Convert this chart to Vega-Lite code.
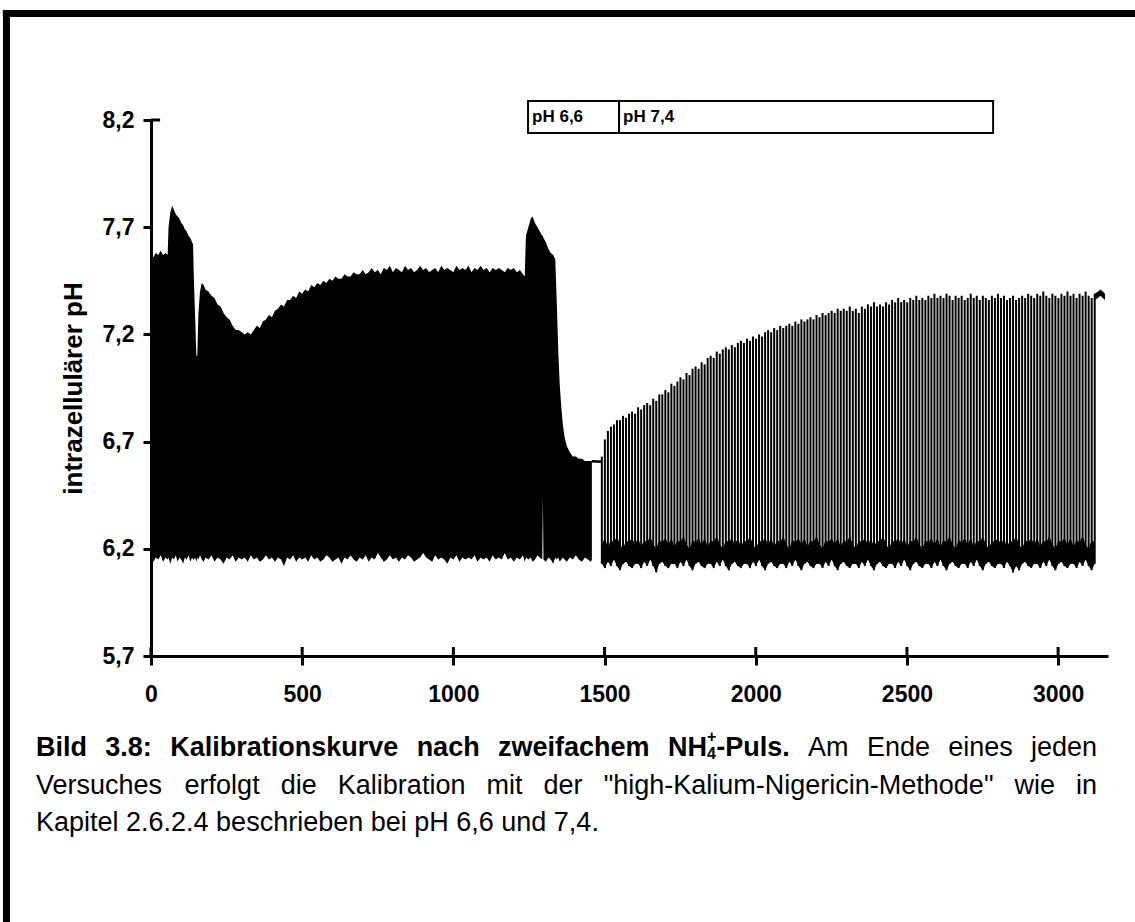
{
"$schema": "https://vega.github.io/schema/vega-lite/v6.json",
"width": 957, "height": 536,
"autosize": {"type": "none"},
"padding": {"left": 151, "top": 120, "right": 27, "bottom": 266},
"background": "white",
"config": {"view": {"stroke": null}, "font": "Liberation Sans",
 "axis": {"grid": false, "domainColor": "black", "domainWidth": 3, "tickColor": "black", "tickWidth": 3, "tickCap": "butt", "labelColor": "black", "labelFont": "Liberation Sans", "labelFontWeight": "bold", "labelFontSize": 23, "titleColor": "black", "titleFont": "Liberation Sans", "titleFontWeight": "bold", "titleFontSize": 26, "labelFlush": false, "labelOverlap": false, "labelBound": false}},
"datasets": {
"dense": [
{"s":"A","t":0,"lo":6.17,"hi":7.58},{"s":"A","t":8,"lo":6.14,"hi":7.56},{"s":"A","t":16,"lo":6.16,"hi":7.58},{"s":"A","t":24,"lo":6.15,"hi":7.57},{"s":"A","t":32,"lo":6.17,"hi":7.59},{"s":"A","t":40,"lo":6.14,"hi":7.57},{"s":"A","t":48,"lo":6.16,"hi":7.58},{"s":"A","t":55,"lo":6.15,"hi":7.57},{"s":"A","t":58,"lo":6.16,"hi":7.70},{"s":"A","t":64,"lo":6.13,"hi":7.77},{"s":"A","t":70,"lo":6.16,"hi":7.80},{"s":"A","t":76,"lo":6.15,"hi":7.78},{"s":"A","t":82,"lo":6.17,"hi":7.76},{"s":"A","t":88,"lo":6.14,"hi":7.75},{"s":"A","t":94,"lo":6.16,"hi":7.74},{"s":"A","t":100,"lo":6.15,"hi":7.72},{"s":"A","t":106,"lo":6.13,"hi":7.71},{"s":"A","t":112,"lo":6.16,"hi":7.69},{"s":"A","t":118,"lo":6.15,"hi":7.68},{"s":"A","t":124,"lo":6.17,"hi":7.66},{"s":"A","t":130,"lo":6.14,"hi":7.65},{"s":"A","t":136,"lo":6.16,"hi":7.63},{"s":"A","t":139,"lo":6.15,"hi":7.62},{"s":"A","t":142,"lo":6.15,"hi":7.45},{"s":"A","t":146,"lo":6.16,"hi":7.28},{"s":"A","t":150,"lo":6.14,"hi":7.10},{"s":"A","t":153,"lo":6.16,"hi":7.10},{"s":"A","t":157,"lo":6.15,"hi":7.30},{"s":"A","t":162,"lo":6.17,"hi":7.40},{"s":"A","t":168,"lo":6.15,"hi":7.44},{"s":"A","t":174,"lo":6.14,"hi":7.43},{"s":"A","t":180,"lo":6.16,"hi":7.41},{"s":"A","t":190,"lo":6.15,"hi":7.40},{"s":"A","t":200,"lo":6.17,"hi":7.38},{"s":"A","t":210,"lo":6.14,"hi":7.37},{"s":"A","t":220,"lo":6.16,"hi":7.34},{"s":"A","t":230,"lo":6.15,"hi":7.33},{"s":"A","t":240,"lo":6.13,"hi":7.30},{"s":"A","t":250,"lo":6.16,"hi":7.28},{"s":"A","t":260,"lo":6.15,"hi":7.27},{"s":"A","t":270,"lo":6.17,"hi":7.24},{"s":"A","t":280,"lo":6.14,"hi":7.22},{"s":"A","t":290,"lo":6.16,"hi":7.22},{"s":"A","t":300,"lo":6.15,"hi":7.21},{"s":"A","t":310,"lo":6.16,"hi":7.20},{"s":"A","t":320,"lo":6.14,"hi":7.21},{"s":"A","t":330,"lo":6.17,"hi":7.20},{"s":"A","t":340,"lo":6.15,"hi":7.22},{"s":"A","t":350,"lo":6.16,"hi":7.24},{"s":"A","t":360,"lo":6.14,"hi":7.23},{"s":"A","t":370,"lo":6.15,"hi":7.26},{"s":"A","t":380,"lo":6.17,"hi":7.27},{"s":"A","t":390,"lo":6.15,"hi":7.29},{"s":"A","t":400,"lo":6.16,"hi":7.28},{"s":"A","t":410,"lo":6.14,"hi":7.31},{"s":"A","t":420,"lo":6.16,"hi":7.32},{"s":"A","t":430,"lo":6.15,"hi":7.34},{"s":"A","t":440,"lo":6.12,"hi":7.33},{"s":"A","t":450,"lo":6.16,"hi":7.36},{"s":"A","t":460,"lo":6.15,"hi":7.36},{"s":"A","t":470,"lo":6.17,"hi":7.38},{"s":"A","t":480,"lo":6.14,"hi":7.37},{"s":"A","t":490,"lo":6.16,"hi":7.40},{"s":"A","t":500,"lo":6.15,"hi":7.39},{"s":"A","t":510,"lo":6.16,"hi":7.41},{"s":"A","t":520,"lo":6.14,"hi":7.40},{"s":"A","t":530,"lo":6.17,"hi":7.43},{"s":"A","t":540,"lo":6.15,"hi":7.42},{"s":"A","t":550,"lo":6.16,"hi":7.44},{"s":"A","t":560,"lo":6.14,"hi":7.43},{"s":"A","t":570,"lo":6.15,"hi":7.45},{"s":"A","t":580,"lo":6.17,"hi":7.44},{"s":"A","t":590,"lo":6.16,"hi":7.46},{"s":"A","t":600,"lo":6.14,"hi":7.45},{"s":"A","t":610,"lo":6.15,"hi":7.47},{"s":"A","t":620,"lo":6.16,"hi":7.46},{"s":"A","t":630,"lo":6.13,"hi":7.46},{"s":"A","t":640,"lo":6.16,"hi":7.48},{"s":"A","t":650,"lo":6.15,"hi":7.47},{"s":"A","t":660,"lo":6.17,"hi":7.47},{"s":"A","t":670,"lo":6.15,"hi":7.49},{"s":"A","t":680,"lo":6.14,"hi":7.48},{"s":"A","t":690,"lo":6.16,"hi":7.48},{"s":"A","t":700,"lo":6.15,"hi":7.50},{"s":"A","t":710,"lo":6.17,"hi":7.48},{"s":"A","t":720,"lo":6.14,"hi":7.49},{"s":"A","t":730,"lo":6.16,"hi":7.51},{"s":"A","t":740,"lo":6.15,"hi":7.49},{"s":"A","t":750,"lo":6.18,"hi":7.50},{"s":"A","t":760,"lo":6.16,"hi":7.48},{"s":"A","t":770,"lo":6.14,"hi":7.51},{"s":"A","t":780,"lo":6.15,"hi":7.50},{"s":"A","t":790,"lo":6.17,"hi":7.52},{"s":"A","t":800,"lo":6.15,"hi":7.49},{"s":"A","t":810,"lo":6.16,"hi":7.51},{"s":"A","t":820,"lo":6.14,"hi":7.50},{"s":"A","t":830,"lo":6.16,"hi":7.49},{"s":"A","t":840,"lo":6.15,"hi":7.52},{"s":"A","t":850,"lo":6.17,"hi":7.50},{"s":"A","t":860,"lo":6.16,"hi":7.51},{"s":"A","t":870,"lo":6.14,"hi":7.49},{"s":"A","t":880,"lo":6.15,"hi":7.50},{"s":"A","t":890,"lo":6.16,"hi":7.52},{"s":"A","t":900,"lo":6.18,"hi":7.50},{"s":"A","t":910,"lo":6.16,"hi":7.51},{"s":"A","t":920,"lo":6.15,"hi":7.49},{"s":"A","t":930,"lo":6.14,"hi":7.50},{"s":"A","t":940,"lo":6.17,"hi":7.51},{"s":"A","t":950,"lo":6.15,"hi":7.49},{"s":"A","t":960,"lo":6.16,"hi":7.52},{"s":"A","t":970,"lo":6.15,"hi":7.50},{"s":"A","t":980,"lo":6.13,"hi":7.51},{"s":"A","t":990,"lo":6.16,"hi":7.50},{"s":"A","t":1000,"lo":6.15,"hi":7.49},{"s":"A","t":1010,"lo":6.17,"hi":7.52},{"s":"A","t":1020,"lo":6.14,"hi":7.50},{"s":"A","t":1030,"lo":6.16,"hi":7.51},{"s":"A","t":1040,"lo":6.15,"hi":7.50},{"s":"A","t":1050,"lo":6.16,"hi":7.52},{"s":"A","t":1060,"lo":6.15,"hi":7.49},{"s":"A","t":1070,"lo":6.17,"hi":7.51},{"s":"A","t":1080,"lo":6.14,"hi":7.50},{"s":"A","t":1090,"lo":6.16,"hi":7.52},{"s":"A","t":1100,"lo":6.15,"hi":7.50},{"s":"A","t":1110,"lo":6.16,"hi":7.51},{"s":"A","t":1120,"lo":6.14,"hi":7.49},{"s":"A","t":1130,"lo":6.17,"hi":7.51},{"s":"A","t":1140,"lo":6.15,"hi":7.50},{"s":"A","t":1150,"lo":6.16,"hi":7.51},{"s":"A","t":1160,"lo":6.15,"hi":7.50},{"s":"A","t":1170,"lo":6.18,"hi":7.49},{"s":"A","t":1180,"lo":6.15,"hi":7.51},{"s":"A","t":1190,"lo":6.16,"hi":7.50},{"s":"A","t":1200,"lo":6.14,"hi":7.51},{"s":"A","t":1210,"lo":6.16,"hi":7.49},{"s":"A","t":1220,"lo":6.15,"hi":7.50},{"s":"A","t":1230,"lo":6.17,"hi":7.48},{"s":"A","t":1236,"lo":6.14,"hi":7.47},{"s":"A","t":1240,"lo":6.16,"hi":7.66},{"s":"A","t":1248,"lo":6.15,"hi":7.70},{"s":"A","t":1256,"lo":6.16,"hi":7.74},{"s":"A","t":1262,"lo":6.14,"hi":7.75},{"s":"A","t":1270,"lo":6.15,"hi":7.72},{"s":"A","t":1278,"lo":6.17,"hi":7.70},{"s":"A","t":1286,"lo":6.16,"hi":7.68},{"s":"A","t":1294,"lo":6.15,"hi":7.66},{"s":"A","t":1296,"lo":6.44,"hi":7.66},{"s":"A","t":1298,"lo":6.15,"hi":7.65},{"s":"A","t":1306,"lo":6.14,"hi":7.63},{"s":"A","t":1314,"lo":6.16,"hi":7.60},{"s":"A","t":1322,"lo":6.15,"hi":7.58},{"s":"A","t":1330,"lo":6.13,"hi":7.57},{"s":"A","t":1337,"lo":6.16,"hi":7.55},{"s":"A","t":1342,"lo":6.15,"hi":7.35},{"s":"A","t":1347,"lo":6.16,"hi":7.12},{"s":"A","t":1352,"lo":6.14,"hi":6.96},{"s":"A","t":1357,"lo":6.15,"hi":6.86},{"s":"A","t":1362,"lo":6.16,"hi":6.78},{"s":"A","t":1368,"lo":6.15,"hi":6.72},{"s":"A","t":1375,"lo":6.14,"hi":6.68},{"s":"A","t":1385,"lo":6.16,"hi":6.65},{"s":"A","t":1395,"lo":6.15,"hi":6.63},{"s":"A","t":1405,"lo":6.17,"hi":6.63},{"s":"A","t":1415,"lo":6.15,"hi":6.62},{"s":"A","t":1425,"lo":6.14,"hi":6.62},{"s":"A","t":1435,"lo":6.16,"hi":6.61},{"s":"A","t":1445,"lo":6.15,"hi":6.61},{"s":"A","t":1455,"lo":6.14,"hi":6.61},{"s":"A","t":1458,"lo":6.15,"hi":6.61},
{"s":"B","t":1458,"lo":6.602,"hi":6.614},{"s":"B","t":1490,"lo":6.600,"hi":6.612},
{"s":"D","t":3121,"lo":7.36,"hi":7.39},{"s":"D","t":3132,"lo":7.37,"hi":7.40},{"s":"D","t":3140,"lo":7.38,"hi":7.41},{"s":"D","t":3148,"lo":7.37,"hi":7.40},{"s":"D","t":3155,"lo":7.36,"hi":7.39}
],
"spikes": [
{"t":1491,"hi":6.63,"lo":6.13,"base":6.22},{"t":1501,"hi":6.71,"lo":6.11,"base":6.25},{"t":1511,"hi":6.75,"lo":6.14,"base":6.21},{"t":1521,"hi":6.77,"lo":6.12,"base":6.24},{"t":1531,"hi":6.78,"lo":6.15,"base":6.23},{"t":1541,"hi":6.80,"lo":6.12,"base":6.26},{"t":1551,"hi":6.80,"lo":6.10,"base":6.22},{"t":1561,"hi":6.82,"lo":6.13,"base":6.20},{"t":1571,"hi":6.81,"lo":6.14,"base":6.24},{"t":1581,"hi":6.83,"lo":6.12,"base":6.23},{"t":1591,"hi":6.84,"lo":6.11,"base":6.25},{"t":1601,"hi":6.83,"lo":6.13,"base":6.22},{"t":1611,"hi":6.86,"lo":6.13,"base":6.25},{"t":1621,"hi":6.85,"lo":6.11,"base":6.21},{"t":1631,"hi":6.87,"lo":6.14,"base":6.24},{"t":1641,"hi":6.88,"lo":6.12,"base":6.23},{"t":1651,"hi":6.87,"lo":6.15,"base":6.26},{"t":1661,"hi":6.90,"lo":6.12,"base":6.22},{"t":1671,"hi":6.89,"lo":6.09,"base":6.20},{"t":1681,"hi":6.92,"lo":6.13,"base":6.24},{"t":1691,"hi":6.92,"lo":6.14,"base":6.23},{"t":1701,"hi":6.94,"lo":6.12,"base":6.25},{"t":1711,"hi":6.93,"lo":6.11,"base":6.22},{"t":1721,"hi":6.97,"lo":6.13,"base":6.25},{"t":1731,"hi":6.96,"lo":6.13,"base":6.21},{"t":1741,"hi":6.98,"lo":6.11,"base":6.24},{"t":1751,"hi":7.00,"lo":6.14,"base":6.23},{"t":1761,"hi":6.99,"lo":6.12,"base":6.26},{"t":1771,"hi":7.02,"lo":6.15,"base":6.22},{"t":1781,"hi":7.01,"lo":6.12,"base":6.20},{"t":1791,"hi":7.04,"lo":6.10,"base":6.24},{"t":1801,"hi":7.05,"lo":6.13,"base":6.23},{"t":1811,"hi":7.04,"lo":6.14,"base":6.25},{"t":1821,"hi":7.07,"lo":6.12,"base":6.22},{"t":1831,"hi":7.06,"lo":6.11,"base":6.25},{"t":1841,"hi":7.09,"lo":6.13,"base":6.21},{"t":1851,"hi":7.10,"lo":6.13,"base":6.24},{"t":1861,"hi":7.09,"lo":6.11,"base":6.23},{"t":1871,"hi":7.12,"lo":6.14,"base":6.26},{"t":1881,"hi":7.11,"lo":6.12,"base":6.22},{"t":1891,"hi":7.13,"lo":6.15,"base":6.20},{"t":1901,"hi":7.14,"lo":6.12,"base":6.24},{"t":1911,"hi":7.13,"lo":6.10,"base":6.23},{"t":1921,"hi":7.15,"lo":6.13,"base":6.25},{"t":1931,"hi":7.14,"lo":6.14,"base":6.22},{"t":1941,"hi":7.16,"lo":6.12,"base":6.25},{"t":1951,"hi":7.17,"lo":6.11,"base":6.21},{"t":1961,"hi":7.16,"lo":6.13,"base":6.24},{"t":1971,"hi":7.18,"lo":6.13,"base":6.23},{"t":1981,"hi":7.17,"lo":6.11,"base":6.26},{"t":1991,"hi":7.19,"lo":6.14,"base":6.22},{"t":2001,"hi":7.18,"lo":6.12,"base":6.20},{"t":2011,"hi":7.20,"lo":6.15,"base":6.24},{"t":2021,"hi":7.19,"lo":6.12,"base":6.23},{"t":2031,"hi":7.21,"lo":6.10,"base":6.25},{"t":2041,"hi":7.22,"lo":6.13,"base":6.22},{"t":2051,"hi":7.21,"lo":6.14,"base":6.25},{"t":2061,"hi":7.23,"lo":6.12,"base":6.21},{"t":2071,"hi":7.22,"lo":6.11,"base":6.24},{"t":2081,"hi":7.24,"lo":6.13,"base":6.23},{"t":2091,"hi":7.23,"lo":6.13,"base":6.26},{"t":2101,"hi":7.24,"lo":6.11,"base":6.22},{"t":2111,"hi":7.25,"lo":6.14,"base":6.20},{"t":2121,"hi":7.24,"lo":6.12,"base":6.24},{"t":2131,"hi":7.26,"lo":6.15,"base":6.23},{"t":2141,"hi":7.25,"lo":6.12,"base":6.25},{"t":2151,"hi":7.27,"lo":6.10,"base":6.22},{"t":2161,"hi":7.26,"lo":6.13,"base":6.25},{"t":2171,"hi":7.27,"lo":6.14,"base":6.21},{"t":2181,"hi":7.28,"lo":6.12,"base":6.24},{"t":2191,"hi":7.27,"lo":6.11,"base":6.23},{"t":2201,"hi":7.29,"lo":6.13,"base":6.26},{"t":2211,"hi":7.28,"lo":6.13,"base":6.22},{"t":2221,"hi":7.30,"lo":6.11,"base":6.20},{"t":2231,"hi":7.29,"lo":6.14,"base":6.24},{"t":2241,"hi":7.30,"lo":6.12,"base":6.23},{"t":2251,"hi":7.31,"lo":6.15,"base":6.25},{"t":2261,"hi":7.30,"lo":6.12,"base":6.22},{"t":2271,"hi":7.32,"lo":6.10,"base":6.25},{"t":2281,"hi":7.31,"lo":6.13,"base":6.21},{"t":2291,"hi":7.32,"lo":6.14,"base":6.24},{"t":2301,"hi":7.31,"lo":6.12,"base":6.23},{"t":2311,"hi":7.33,"lo":6.11,"base":6.26},{"t":2321,"hi":7.31,"lo":6.13,"base":6.22},{"t":2331,"hi":7.32,"lo":6.13,"base":6.20},{"t":2341,"hi":7.30,"lo":6.11,"base":6.24},{"t":2351,"hi":7.33,"lo":6.14,"base":6.23},{"t":2361,"hi":7.32,"lo":6.12,"base":6.25},{"t":2371,"hi":7.34,"lo":6.15,"base":6.22},{"t":2381,"hi":7.33,"lo":6.12,"base":6.25},{"t":2391,"hi":7.35,"lo":6.10,"base":6.21},{"t":2401,"hi":7.33,"lo":6.13,"base":6.24},{"t":2411,"hi":7.34,"lo":6.14,"base":6.23},{"t":2421,"hi":7.33,"lo":6.12,"base":6.26},{"t":2431,"hi":7.35,"lo":6.11,"base":6.22},{"t":2441,"hi":7.34,"lo":6.13,"base":6.20},{"t":2451,"hi":7.36,"lo":6.13,"base":6.24},{"t":2461,"hi":7.35,"lo":6.11,"base":6.23},{"t":2471,"hi":7.37,"lo":6.14,"base":6.25},{"t":2481,"hi":7.35,"lo":6.12,"base":6.22},{"t":2491,"hi":7.36,"lo":6.15,"base":6.25},{"t":2501,"hi":7.35,"lo":6.12,"base":6.21},{"t":2511,"hi":7.37,"lo":6.10,"base":6.24},{"t":2521,"hi":7.36,"lo":6.13,"base":6.23},{"t":2531,"hi":7.38,"lo":6.14,"base":6.26},{"t":2541,"hi":7.36,"lo":6.12,"base":6.22},{"t":2551,"hi":7.37,"lo":6.11,"base":6.20},{"t":2561,"hi":7.36,"lo":6.13,"base":6.24},{"t":2571,"hi":7.38,"lo":6.13,"base":6.23},{"t":2581,"hi":7.37,"lo":6.11,"base":6.25},{"t":2591,"hi":7.39,"lo":6.14,"base":6.22},{"t":2601,"hi":7.37,"lo":6.12,"base":6.25},{"t":2611,"hi":7.38,"lo":6.15,"base":6.21},{"t":2621,"hi":7.37,"lo":6.12,"base":6.24},{"t":2631,"hi":7.39,"lo":6.10,"base":6.23},{"t":2641,"hi":7.38,"lo":6.13,"base":6.26},{"t":2651,"hi":7.36,"lo":6.14,"base":6.22},{"t":2661,"hi":7.38,"lo":6.12,"base":6.20},{"t":2671,"hi":7.37,"lo":6.11,"base":6.24},{"t":2681,"hi":7.38,"lo":6.13,"base":6.23},{"t":2691,"hi":7.36,"lo":6.13,"base":6.25},{"t":2701,"hi":7.37,"lo":6.11,"base":6.22},{"t":2711,"hi":7.39,"lo":6.14,"base":6.25},{"t":2721,"hi":7.37,"lo":6.12,"base":6.21},{"t":2731,"hi":7.38,"lo":6.15,"base":6.24},{"t":2741,"hi":7.36,"lo":6.12,"base":6.23},{"t":2751,"hi":7.38,"lo":6.10,"base":6.26},{"t":2761,"hi":7.37,"lo":6.13,"base":6.22},{"t":2771,"hi":7.36,"lo":6.14,"base":6.20},{"t":2781,"hi":7.38,"lo":6.12,"base":6.24},{"t":2791,"hi":7.37,"lo":6.11,"base":6.23},{"t":2801,"hi":7.39,"lo":6.13,"base":6.25},{"t":2811,"hi":7.37,"lo":6.13,"base":6.22},{"t":2821,"hi":7.38,"lo":6.11,"base":6.25},{"t":2831,"hi":7.36,"lo":6.14,"base":6.21},{"t":2841,"hi":7.37,"lo":6.12,"base":6.24},{"t":2851,"hi":7.38,"lo":6.09,"base":6.23},{"t":2861,"hi":7.36,"lo":6.12,"base":6.26},{"t":2871,"hi":7.37,"lo":6.10,"base":6.22},{"t":2881,"hi":7.38,"lo":6.13,"base":6.20},{"t":2891,"hi":7.37,"lo":6.14,"base":6.24},{"t":2901,"hi":7.39,"lo":6.12,"base":6.23},{"t":2911,"hi":7.38,"lo":6.11,"base":6.25},{"t":2921,"hi":7.37,"lo":6.13,"base":6.22},{"t":2931,"hi":7.39,"lo":6.13,"base":6.25},{"t":2941,"hi":7.38,"lo":6.11,"base":6.21},{"t":2951,"hi":7.40,"lo":6.14,"base":6.24},{"t":2961,"hi":7.38,"lo":6.12,"base":6.23},{"t":2971,"hi":7.37,"lo":6.15,"base":6.26},{"t":2981,"hi":7.39,"lo":6.12,"base":6.22},{"t":2991,"hi":7.38,"lo":6.10,"base":6.20},{"t":3001,"hi":7.37,"lo":6.13,"base":6.24},{"t":3011,"hi":7.39,"lo":6.14,"base":6.23},{"t":3021,"hi":7.38,"lo":6.12,"base":6.25},{"t":3031,"hi":7.40,"lo":6.11,"base":6.22},{"t":3041,"hi":7.38,"lo":6.13,"base":6.25},{"t":3051,"hi":7.39,"lo":6.13,"base":6.21},{"t":3061,"hi":7.37,"lo":6.11,"base":6.24},{"t":3071,"hi":7.39,"lo":6.14,"base":6.23},{"t":3081,"hi":7.38,"lo":6.12,"base":6.26},{"t":3091,"hi":7.40,"lo":6.15,"base":6.22},{"t":3101,"hi":7.38,"lo":6.12,"base":6.20},{"t":3111,"hi":7.37,"lo":6.10,"base":6.24},{"t":3121,"hi":7.39,"lo":6.13,"base":6.23}
],
"cal": [{"lab":"pH 6,6","a":1247,"b":1548},{"lab":"pH 7,4","a":1548,"b":2785}],
"xticks": [{"v":0},{"v":500},{"v":1000},{"v":1500},{"v":2000},{"v":2500},{"v":3000}],
"one": [{}]
},
"layer": [
{"data": {"name": "dense"}, "mark": {"type": "area", "color": "black"},
 "encoding": {
  "x": {"field": "t", "type": "quantitative", "title": null, "scale": {"domain": [0, 3165], "nice": false, "zero": false},
        "axis": {"values": [0,500,1000,1500,2000,2500,3000], "format": "d", "tickSize": 9, "labelPadding": 18}},
  "y": {"field": "lo", "type": "quantitative", "title": "intrazellulärer pH", "scale": {"domain": [5.7, 8.2], "nice": false, "zero": false},
        "axis": {"values": [5.7,6.2,6.7,7.2,7.7,8.2], "labelExpr": "replace(format(datum.value, '.1f'), '.', ',')", "tickSize": 8, "labelPadding": 9, "titlePadding": 16}},
  "y2": {"field": "hi"},
  "detail": {"field": "s"}}},
{"data": {"name": "spikes"}, "mark": {"type": "area", "color": "black"},
 "encoding": {"x": {"field": "t", "type": "quantitative", "title": null}, "y": {"field": "lo", "type": "quantitative", "title": "intrazellulärer pH"}, "y2": {"field": "base"}}},
{"data": {"name": "spikes"}, "mark": {"type": "rule", "color": "black", "strokeWidth": 2},
 "encoding": {"x": {"field": "t", "type": "quantitative", "title": null}, "y": {"field": "lo", "type": "quantitative", "title": "intrazellulärer pH"}, "y2": {"field": "hi"}}},
{"data": {"name": "xticks"}, "mark": {"type": "rule", "color": "black", "strokeWidth": 3, "clip": false},
 "encoding": {"x": {"field": "v", "type": "quantitative", "title": null}, "y": {"datum": 5.7}, "y2": {"datum": 5.742}}},
{"data": {"name": "one"}, "mark": {"type": "rule", "color": "black", "strokeWidth": 3, "clip": false},
 "encoding": {"x": {"datum": 0}, "x2": {"datum": 30}, "y": {"datum": 8.2}}},
{"data": {"name": "cal"}, "mark": {"type": "rect", "fill": "white", "stroke": "black", "strokeWidth": 2, "clip": false},
 "encoding": {"x": {"field": "a", "type": "quantitative", "title": null}, "x2": {"field": "b"}, "y": {"datum": 8.139}, "y2": {"datum": 8.289}}},
{"data": {"name": "cal"}, "mark": {"type": "text", "align": "left", "baseline": "middle", "dx": 4, "fontSize": 17, "fontWeight": "bold", "font": "Liberation Sans", "color": "black", "clip": false},
 "encoding": {"x": {"field": "a", "type": "quantitative", "title": null}, "y": {"datum": 8.214}, "text": {"field": "lab"}}},
{"data": {"name": "one"}, "mark": {"type": "rule", "color": "black", "strokeWidth": 7, "clip": false}, "encoding": {"x": {"datum": -490}, "x2": {"datum": 3300}, "y": {"datum": 8.697}}},
{"data": {"name": "one"}, "mark": {"type": "rule", "color": "black", "strokeWidth": 7, "clip": false}, "encoding": {"x": {"datum": -478}, "y": {"datum": 8.713}, "y2": {"datum": 4.3}}},
{"data": {"name": "one"}, "mark": {"type": "text", "text": "Bild", "align": "left", "font": "Liberation Sans", "fontSize": 27, "fontWeight": "bold", "color": "black", "clip": false}, "encoding": {"x": {"datum": -380.4}, "y": {"datum": 5.27}}},
{"data": {"name": "one"}, "mark": {"type": "text", "text": "3.8:", "align": "left", "font": "Liberation Sans", "fontSize": 27, "fontWeight": "bold", "color": "black", "clip": false}, "encoding": {"x": {"datum": -151.1}, "y": {"datum": 5.27}}},
{"data": {"name": "one"}, "mark": {"type": "text", "text": "Kalibrationskurve", "align": "left", "font": "Liberation Sans", "fontSize": 27, "fontWeight": "bold", "color": "black", "clip": false}, "encoding": {"x": {"datum": 63.4}, "y": {"datum": 5.27}}},
{"data": {"name": "one"}, "mark": {"type": "text", "text": "nach", "align": "left", "font": "Liberation Sans", "fontSize": 27, "fontWeight": "bold", "color": "black", "clip": false}, "encoding": {"x": {"datum": 878.5}, "y": {"datum": 5.27}}},
{"data": {"name": "one"}, "mark": {"type": "text", "text": "zweifachem", "align": "left", "font": "Liberation Sans", "fontSize": 27, "fontWeight": "bold", "color": "black", "clip": false}, "encoding": {"x": {"datum": 1147.5}, "y": {"datum": 5.27}}},
{"data": {"name": "one"}, "mark": {"type": "text", "text": "NH", "align": "left", "font": "Liberation Sans", "fontSize": 27, "fontWeight": "bold", "color": "black", "clip": false}, "encoding": {"x": {"datum": 1709.6}, "y": {"datum": 5.27}}},
{"data": {"name": "one"}, "mark": {"type": "text", "text": "4", "align": "left", "font": "Liberation Sans", "fontSize": 16, "fontWeight": "bold", "color": "black", "clip": false}, "encoding": {"x": {"datum": 1838.6}, "y": {"datum": 5.242}}},
{"data": {"name": "one"}, "mark": {"type": "text", "text": "+", "align": "left", "font": "Liberation Sans", "fontSize": 16, "fontWeight": "bold", "color": "black", "clip": false}, "encoding": {"x": {"datum": 1838.6}, "y": {"datum": 5.322}}},
{"data": {"name": "one"}, "mark": {"type": "text", "text": "-Puls.", "align": "left", "font": "Liberation Sans", "fontSize": 27, "fontWeight": "bold", "color": "black", "clip": false}, "encoding": {"x": {"datum": 1869.3}, "y": {"datum": 5.27}}},
{"data": {"name": "one"}, "mark": {"type": "text", "text": "Am", "align": "left", "font": "Liberation Sans", "fontSize": 27, "color": "black", "clip": false}, "encoding": {"x": {"datum": 2173.1}, "y": {"datum": 5.27}}},
{"data": {"name": "one"}, "mark": {"type": "text", "text": "Ende", "align": "left", "font": "Liberation Sans", "fontSize": 27, "color": "black", "clip": false}, "encoding": {"x": {"datum": 2367.7}, "y": {"datum": 5.27}}},
{"data": {"name": "one"}, "mark": {"type": "text", "text": "eines", "align": "left", "font": "Liberation Sans", "fontSize": 27, "color": "black", "clip": false}, "encoding": {"x": {"datum": 2636.7}, "y": {"datum": 5.27}}},
{"data": {"name": "one"}, "mark": {"type": "text", "text": "jeden", "align": "right", "font": "Liberation Sans", "fontSize": 27, "color": "black", "clip": false}, "encoding": {"x": {"datum": 3129.0}, "y": {"datum": 5.27}}},
{"data": {"name": "one"}, "mark": {"type": "text", "text": "Versuches", "align": "left", "font": "Liberation Sans", "fontSize": 27, "color": "black", "clip": false}, "encoding": {"x": {"datum": -380.4}, "y": {"datum": 5.095}}},
{"data": {"name": "one"}, "mark": {"type": "text", "text": "erfolgt", "align": "left", "font": "Liberation Sans", "fontSize": 27, "color": "black", "clip": false}, "encoding": {"x": {"datum": 111.1}, "y": {"datum": 5.095}}},
{"data": {"name": "one"}, "mark": {"type": "text", "text": "die", "align": "left", "font": "Liberation Sans", "fontSize": 27, "color": "black", "clip": false}, "encoding": {"x": {"datum": 429.0}, "y": {"datum": 5.095}}},
{"data": {"name": "one"}, "mark": {"type": "text", "text": "Kalibration", "align": "left", "font": "Liberation Sans", "fontSize": 27, "color": "black", "clip": false}, "encoding": {"x": {"datum": 617.9}, "y": {"datum": 5.095}}},
{"data": {"name": "one"}, "mark": {"type": "text", "text": "mit", "align": "left", "font": "Liberation Sans", "fontSize": 27, "color": "black", "clip": false}, "encoding": {"x": {"datum": 1109.4}, "y": {"datum": 5.095}}},
{"data": {"name": "one"}, "mark": {"type": "text", "text": "der", "align": "left", "font": "Liberation Sans", "fontSize": 27, "color": "black", "clip": false}, "encoding": {"x": {"datum": 1298.3}, "y": {"datum": 5.095}}},
{"data": {"name": "one"}, "mark": {"type": "text", "text": "\"high-Kalium-Nigericin-Methode\"", "align": "left", "font": "Liberation Sans", "fontSize": 27, "color": "black", "clip": false}, "encoding": {"x": {"datum": 1497.0}, "y": {"datum": 5.095}}},
{"data": {"name": "one"}, "mark": {"type": "text", "text": "wie", "align": "left", "font": "Liberation Sans", "fontSize": 27, "color": "black", "clip": false}, "encoding": {"x": {"datum": 2855.8}, "y": {"datum": 5.095}}},
{"data": {"name": "one"}, "mark": {"type": "text", "text": "in", "align": "right", "font": "Liberation Sans", "fontSize": 27, "color": "black", "clip": false}, "encoding": {"x": {"datum": 3129.0}, "y": {"datum": 5.095}}},
{"data": {"name": "one"}, "mark": {"type": "text", "text": "Kapitel 2.6.2.4 beschrieben bei pH 6,6 und 7,4.", "align": "left", "font": "Liberation Sans", "fontSize": 27, "color": "black", "clip": false}, "encoding": {"x": {"datum": -380.4}, "y": {"datum": 4.92}}}
]
}
